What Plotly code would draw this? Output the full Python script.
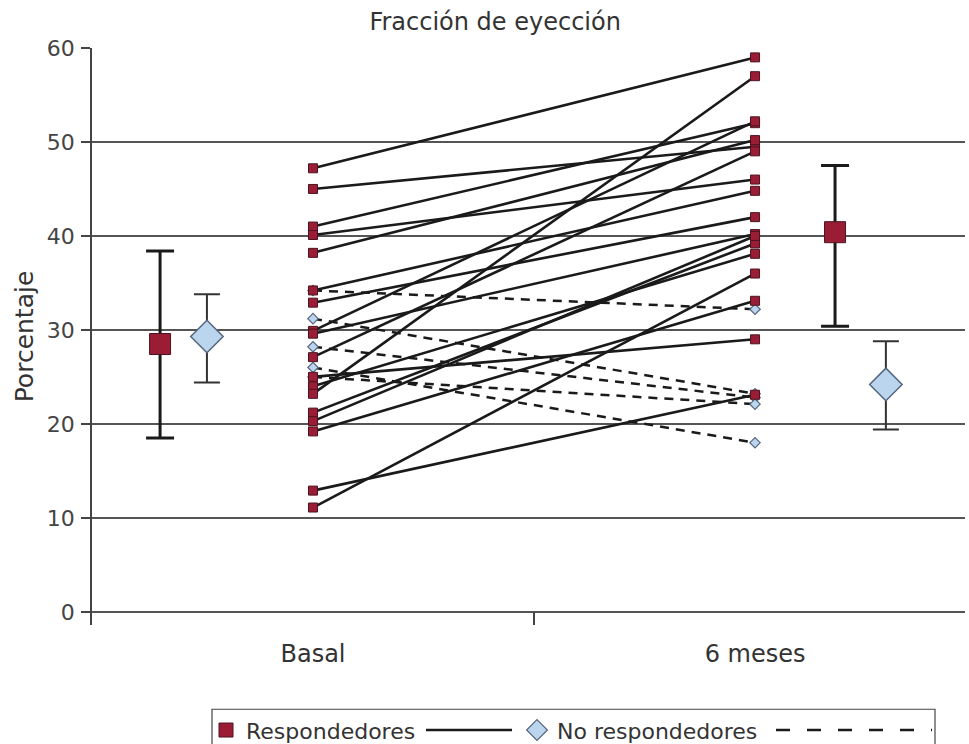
import plotly.graph_objects as go

# ---- data ----
categories = ["Basal", "6 meses"]

resp_basal = [47.2, 45.0, 41.0, 40.1, 38.2, 34.2, 32.9, 29.9, 29.6, 27.1, 25.0, 24.0, 23.2, 21.2, 20.3, 19.2, 12.9, 11.1]
resp_6m    = [59.0, 49.5, 52.0, 46.0, 50.2, 44.8, 42.0, 52.2, 40.2, 49.0, 29.0, 38.1, 57.0, 39.2, 40.0, 33.1, 23.1, 36.0]

nonresp_basal = [34.2, 31.2, 28.2, 26.0, 25.0]
nonresp_6m    = [32.2, 23.2, 22.8, 18.0, 22.1]

# summary (mean, upper, lower)
resp_mean = [28.5, 40.4]
resp_upper = [38.4, 47.5]
resp_lower = [18.5, 30.4]
nonresp_mean = [29.3, 24.2]
nonresp_upper = [33.8, 28.8]
nonresp_lower = [24.4, 19.4]

y_ticks = [0, 10, 20, 30, 40, 50, 60]

# positions (layout)
pos_points = [0, 1]
pos_resp_summary = [-0.346, 1.181]
pos_nonresp_summary = [-0.24, 1.296]

RED = "#9b1c35"
RED_EDGE = "#4a1520"
BLUE = "#bcd5ee"
BLUE_EDGE = "#55657d"
FONT = "DejaVu Sans, Verdana, sans-serif"

fig = go.Figure()

def pairs(a, b):
    xs, ys = [], []
    for v0, v1 in zip(a, b):
        xs += [pos_points[0], pos_points[1], None]
        ys += [v0, v1, None]
    return xs, ys

# non-responders dashed lines
x, y = pairs(nonresp_basal, nonresp_6m)
fig.add_trace(go.Scatter(x=x, y=y, mode="lines+markers", showlegend=False,
                         line=dict(color="#1a1a1a", width=2.5, dash="9px,7px"),
                         marker=dict(symbol="diamond", size=8, color=BLUE,
                                     line=dict(color=BLUE_EDGE, width=1.2))))
# responders solid lines
x, y = pairs(resp_basal, resp_6m)
fig.add_trace(go.Scatter(x=x, y=y, mode="lines+markers", showlegend=False,
                         line=dict(color="#1a1a1a", width=2.6),
                         marker=dict(symbol="square", size=9, color=RED,
                                     line=dict(color=RED_EDGE, width=1))))

# summary responders
fig.add_trace(go.Scatter(
    x=pos_resp_summary, y=resp_mean, mode="markers", showlegend=False,
    marker=dict(symbol="square", size=21, color=RED, line=dict(color=RED_EDGE, width=1)),
    error_y=dict(type="data", symmetric=False,
                 array=[u - m for u, m in zip(resp_upper, resp_mean)],
                 arrayminus=[m - l for l, m in zip(resp_lower, resp_mean)],
                 color="#1a1a1a", thickness=3, width=14)))
# summary non-responders
fig.add_trace(go.Scatter(
    x=pos_nonresp_summary, y=nonresp_mean, mode="markers", showlegend=False,
    marker=dict(symbol="diamond", size=25, color=BLUE, line=dict(color=BLUE_EDGE, width=1.5)),
    error_y=dict(type="data", symmetric=False,
                 array=[u - m for u, m in zip(nonresp_upper, nonresp_mean)],
                 arrayminus=[m - l for l, m in zip(nonresp_lower, nonresp_mean)],
                 color="#333333", thickness=2, width=13)))

# legend entries (four legends placed side by side inside one frame)
fig.add_trace(go.Scatter(x=[None], y=[None], mode="markers", name="Respondedores", legend="legend",
                         marker=dict(symbol="square", size=14, color=RED, line=dict(color=RED_EDGE, width=1))))
fig.add_trace(go.Scatter(x=[None], y=[None], mode="lines", name="", legend="legend2",
                         line=dict(color="#1a1a1a", width=2.5)))
fig.add_trace(go.Scatter(x=[None], y=[None], mode="markers", name="No respondedores", legend="legend3",
                         marker=dict(symbol="diamond", size=18, color=BLUE, line=dict(color=BLUE_EDGE, width=1.2))))
fig.add_trace(go.Scatter(x=[None], y=[None], mode="lines", name="", legend="legend4",
                         line=dict(color="#1a1a1a", width=2.5, dash="14px,17px")))

def px2x(px):
    return (px - 92) / 873.0

LEG_Y = -0.146
leg_common = dict(orientation="h", yanchor="top", y=LEG_Y, xanchor="left",
                  bgcolor="rgba(0,0,0,0)", borderwidth=0,
                  font=dict(size=22, color="#333333"))

fig.update_layout(
    width=969, height=744,
    margin=dict(l=92, r=4, t=48, b=119, autoexpand=False),
    paper_bgcolor="white", plot_bgcolor="white",
    font=dict(family=FONT, size=20, color="#333333"),
    title=dict(text="Fracción de eyección", x=0.511, xanchor="center",
               y=1 - 22 / 744, yanchor="middle", font=dict(size=24, color="#333333")),
    showlegend=True,
    legend=dict(leg_common, x=px2x(206), itemwidth=30),
    legend2=dict(leg_common, x=px2x(421), itemwidth=86),
    legend3=dict(leg_common, x=px2x(517), itemwidth=30),
    legend4=dict(leg_common, x=px2x(771), itemwidth=156),
    shapes=[dict(type="rect", xref="paper", yref="paper",
                 x0=px2x(212), x1=px2x(935), y0=-0.26, y1=LEG_Y,
                 line=dict(color="#444444", width=1.2), fillcolor="rgba(0,0,0,0)")],
)

fig.update_xaxes(
    range=[-0.5, 1.475], tickmode="array", tickvals=pos_points, ticktext=categories,
    ticks="", showgrid=False, zeroline=False, showline=False,
    tickfont=dict(size=24, color="#333333"), ticklabelstandoff=12,
    minor=dict(tickmode="array", tickvals=[0.5], ticks="inside", ticklen=13,
               tickcolor="#444444", tickwidth=1.5, showgrid=False),
)
fig.update_yaxes(
    range=[-1.4, 60], tickmode="array", tickvals=y_ticks,
    ticks="outside", ticklen=9, tickcolor="#444444", tickwidth=1.5,
    showgrid=True, gridcolor="#555555", gridwidth=1.5,
    zeroline=True, zerolinecolor="#555555", zerolinewidth=1.5,
    showline=True, linecolor="#444444", linewidth=1.5,
    tickfont=dict(size=22, color="#444444"), ticklabelstandoff=2,
    title=dict(text="Porcentaje", font=dict(size=25, color="#333333"), standoff=6),
)

fig.write_html("out.html")
